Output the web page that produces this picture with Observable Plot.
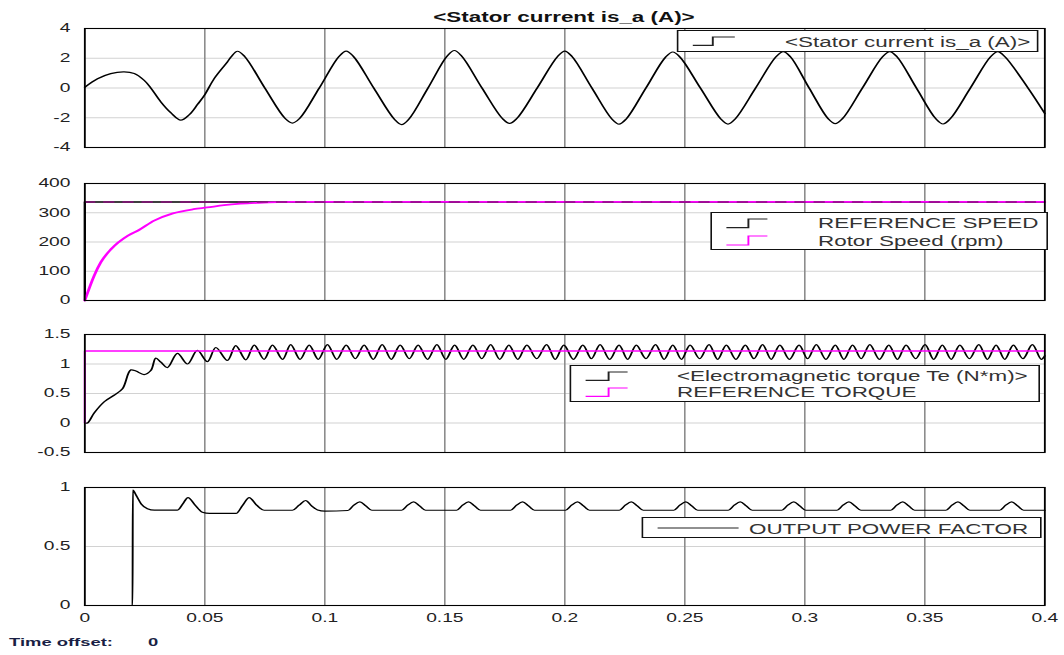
<!DOCTYPE html>
<html><head><meta charset="utf-8">
<script src="https://cdn.jsdelivr.net/npm/d3@7"></script>
<script src="https://cdn.jsdelivr.net/npm/@observablehq/plot@0.6"></script>
<style>
html,body{margin:0;padding:0;background:#fff;width:1064px;height:655px;overflow:hidden}
#root{position:absolute;left:0;top:0;width:665px;height:655px;transform:scaleX(1.6);transform-origin:0 0;font-family:"Liberation Sans",Arial,sans-serif}
.lg{position:absolute;background:#fff;border:1px solid #111;box-sizing:border-box}
.lt{position:absolute;font-size:14px;color:#333;white-space:nowrap;line-height:1;transform:translateY(-50%)}
</style></head>
<body><div id="root"></div>
<script>
// ---------- data (time in s) ----------
const xTicks = [0, 0.05, 0.1, 0.15, 0.2, 0.25, 0.3, 0.35, 0.4];
const currentTicks = [-4, -2, 0, 2, 4];
const speedTicks = [0, 100, 200, 300, 400];
const torqueTicks = [-0.5, 0, 0.5, 1, 1.5];
const pfTicks = [0, 0.5, 1];

const statorCurrent = [
[0,0.05],[0.0053,0.62],[0.0108,0.97],[0.0164,1.08],[0.0206,0.97],[0.0247,0.52],[0.0275,0],[0.0317,-0.94],[0.0358,-1.66],[0.0400,-2.16],
[0.0435,-1.8],[0.0470,-1.1],[0.0500,-0.45],[0.0539,0.63],[0.0594,1.75],[0.0610,2.1],[0.0636,2.47],
[0.0666,2.12],[0.0750,0],[0.0835,-2.05],[0.0865,-2.36],[0.0895,-2.05],[0.0977,0],[0.1059,2.12],[0.1089,2.48],
[0.1119,2.13],[0.1204,0],[0.1290,-2.1],[0.1320,-2.46],[0.1350,-2.1],[0.1430,0],[0.1510,2.15],[0.1540,2.52],
[0.1570,2.15],[0.1655,0],[0.1740,-2.05],[0.1770,-2.38],[0.1800,-2.05],[0.1885,0],[0.1970,2.12],[0.2000,2.48],
[0.2030,2.12],[0.2113,0],[0.2196,-2.08],[0.2226,-2.43],[0.2256,-2.08],[0.2338,0],[0.2420,2.08],[0.2450,2.42],
[0.2480,2.08],[0.2565,0],[0.2650,-2.08],[0.2680,-2.43],[0.2710,-2.08],[0.2795,0],[0.2880,2.1],[0.2910,2.45],
[0.2940,2.1],[0.3018,0],[0.3097,-2.06],[0.3127,-2.40],[0.3157,-2.06],[0.3240,0],[0.3324,2.1],[0.3354,2.45],
[0.3384,2.1],[0.3465,0],[0.3546,-2.07],[0.3576,-2.42],[0.3606,-2.07],[0.3690,0],[0.3774,2.1],[0.3804,2.45],
[0.3834,2.1],[0.3930,0],[0.4000,-1.72]
];

const referenceSpeed = [[0,0],[0,337],[0.4,337]];
const rotorSpeed = [
[0,0],[0.0039,85],[0.0067,131],[0.011,176],[0.018,222],[0.0224,240],[0.0289,273],[0.0367,298],[0.0453,312],
[0.051,318],[0.058,326],[0.065,331],[0.0724,334],[0.0867,337],[0.4,337]
];

const referenceTorque = [[0,0],[0,1.22],[0.4,1.22]];
const emTorque = [
[0,0],[0.0011,0],[0.0039,0.17],[0.0081,0.36],[0.0122,0.47],[0.0157,0.58],[0.0192,0.90],[0.0213,0.88],[0.0247,0.82],[0.0275,0.89],
[0.0296,1.10],[0.0317,1.03],[0.0344,0.94],[0.0386,1.18],[0.0428,1.00],[0.0469,1.23],[0.0511,1.04],[0.0546,1.28],[0.0594,1.06],[0.0629,1.31],
[0.0671,1.07],[0.0706,1.32],[0.0747,1.08],[0.0782,1.32],[0.0824,1.08],[0.0858,1.33],[0.0897,1.08],[0.0935,1.32],[0.0973,1.08],[0.1011,1.33],
[0.1050,1.08],[0.1089,1.32],[0.1127,1.09],[0.1164,1.32],[0.1202,1.08],[0.1239,1.33],[0.1277,1.08],[0.1314,1.32],[0.1352,1.09],[0.1389,1.32],
[0.1428,1.08],[0.1467,1.33],[0.1504,1.08],[0.1541,1.32],[0.1579,1.08],[0.1617,1.32],[0.1654,1.09],[0.1691,1.33],[0.1729,1.08],[0.1767,1.32],
[0.1804,1.08],[0.1842,1.32],[0.1883,1.09],[0.1924,1.33],[0.1960,1.08],[0.1996,1.32],[0.2036,1.08],[0.2075,1.32],[0.2111,1.09],[0.2147,1.33],
[0.2187,1.08],[0.2226,1.32],[0.2262,1.08],[0.2298,1.32],[0.2338,1.09],[0.2378,1.33],[0.2414,1.08],[0.2450,1.32],[0.2486,1.08],[0.2522,1.32],
[0.2562,1.09],[0.2601,1.33],[0.2637,1.08],[0.2673,1.32],[0.2713,1.08],[0.2752,1.32],[0.2788,1.09],[0.2824,1.33],[0.2860,1.08],[0.2896,1.32],
[0.2936,1.08],[0.2976,1.32],[0.3012,1.09],[0.3048,1.33],[0.3088,1.08],[0.3127,1.32],[0.3163,1.08],[0.3199,1.32],[0.3235,1.09],[0.3271,1.33],
[0.3311,1.08],[0.3350,1.32],[0.3386,1.08],[0.3422,1.32],[0.3462,1.09],[0.3501,1.33],[0.3537,1.08],[0.3573,1.32],[0.3610,1.08],[0.3646,1.32],
[0.3686,1.09],[0.3725,1.33],[0.3761,1.08],[0.3797,1.32],[0.3833,1.08],[0.3869,1.32],[0.3909,1.09],[0.3948,1.33],[0.3985,1.08],[0.4000,1.14]
];

const powerFactor = [
[0,0],[0.0199,0],[0.0200,0.977],[0.0215,0.93],[0.0235,0.86],[0.0261,0.82],[0.0290,0.808],[0.0386,0.808],[0.0408,0.86],[0.0430,0.915],
[0.0460,0.85],[0.0490,0.79],[0.0520,0.78],[0.0630,0.78],[0.0658,0.85],[0.0685,0.915],[0.0716,0.85],[0.0747,0.807],[0.0865,0.807],[0.0893,0.85],
[0.0920,0.89],[0.0945,0.845],[0.0970,0.81],[0.1000,0.80],[0.1096,0.805],[0.1121,0.85],[0.1146,0.878],[0.1171,0.845],[0.1196,0.807],
[0.1320,0.807],[0.1345,0.85],[0.1370,0.878],[0.1395,0.845],[0.1420,0.807],[0.1549,0.807],[0.1574,0.85],[0.1599,0.878],[0.1624,0.845],[0.1649,0.807],
[0.1774,0.807],[0.1799,0.85],[0.1824,0.878],[0.1849,0.845],[0.1874,0.807],[0.2003,0.807],[0.2028,0.85],[0.2053,0.878],[0.2078,0.845],[0.2103,0.807],
[0.2227,0.807],[0.2252,0.85],[0.2277,0.878],[0.2302,0.845],[0.2327,0.807],[0.2454,0.807],[0.2479,0.85],[0.2504,0.878],[0.2529,0.845],[0.2554,0.807],
[0.2681,0.807],[0.2706,0.85],[0.2731,0.878],[0.2756,0.845],[0.2781,0.807],[0.2904,0.807],[0.2929,0.85],[0.2954,0.878],[0.2979,0.845],[0.3004,0.807],
[0.3134,0.807],[0.3159,0.85],[0.3184,0.878],[0.3209,0.845],[0.3234,0.807],[0.3358,0.807],[0.3383,0.85],[0.3408,0.878],[0.3433,0.845],[0.3458,0.807],
[0.3588,0.807],[0.3613,0.85],[0.3638,0.878],[0.3663,0.845],[0.3688,0.807],[0.3812,0.807],[0.3837,0.85],[0.3862,0.878],[0.3887,0.845],[0.3912,0.807],
[0.4000,0.807]
];

// ---------- layout ----------
const S = 1.6;              // horizontal stretch of the whole picture
const W = 1064 / S;
const root = document.getElementById("root");
const X = px => px / S;
const fmt = d => String(d);
const tx = d => d[0], ty = d => d[1];

function addPanel(top, bottom, yDomain, yTicks, marks, showX) {
  const mt = 8, mb = showX ? 30 : 8;
  const svg = Plot.plot({
    width: W, height: (bottom - top) + mt + mb,
    marginLeft: X(84), marginRight: W - X(1044), marginTop: mt, marginBottom: mb,
    x: {domain: [0, 0.4], axis: null},
    y: {domain: yDomain, axis: null},
    style: {fontFamily: "Liberation Sans, Arial, sans-serif", fontSize: "12px", color: "#222", background: "transparent", overflow: "visible"},
    marks: [
      Plot.gridY(yTicks, {stroke: "#d2d2d2", strokeOpacity: 1}),
      Plot.gridX(xTicks, {stroke: "#8c8c8c", strokeOpacity: 1}),
      Plot.axisY(yTicks, {tickSize: 0, tickPadding: 9, tickFormat: fmt}),
      showX ? Plot.axisX(xTicks, {tickSize: 0, tickPadding: 8, tickFormat: fmt}) : null,
      ...marks,
      Plot.frame({stroke: "#000", strokeWidth: 1.1})
    ]
  });
  svg.style.position = "absolute";
  svg.style.left = "0px";
  svg.style.top = (top - mt) + "px";
  root.appendChild(svg);
}

addPanel(28, 147, [-4, 4], currentTicks, [
  Plot.line(statorCurrent, {x: tx, y: ty, stroke: "#000", strokeWidth: 1.2, curve: "catmull-rom"})
], false);

addPanel(183, 300, [0, 400], speedTicks, [
  Plot.line(referenceSpeed, {x: tx, y: ty, stroke: "#000", strokeWidth: 1.4}),
  Plot.line(rotorSpeed, {x: tx, y: ty, stroke: "#ff00ff", strokeWidth: 1.8, curve: "monotone-x"}),
  Plot.line(referenceSpeed.slice(1), {x: tx, y: ty, stroke: "#8a0f7e", strokeWidth: 1.4, strokeDasharray: "6,6"})
], false);

addPanel(334, 452, [-0.5, 1.5], torqueTicks, [
  Plot.line(emTorque, {x: tx, y: ty, stroke: "#000", strokeWidth: 1.2, curve: "catmull-rom"}),
  Plot.line(referenceTorque, {x: tx, y: ty, stroke: "#ff00ff", strokeWidth: 1.3})
], false);

addPanel(487, 605, [0, 1], pfTicks, [
  Plot.line(powerFactor, {x: tx, y: ty, stroke: "#000", strokeWidth: 1.2, curve: "monotone-x"})
], true);

// ---------- text & legends ----------
function el(tag, cls, css, text) {
  const e = document.createElement(tag);
  if (cls) e.className = cls;
  Object.assign(e.style, css);
  if (text != null) e.textContent = text;
  root.appendChild(e);
  return e;
}
function box(x1, y1, x2, y2) {
  el("div", "lg", {left: X(x1) + "px", top: y1 + "px", width: X(x2 - x1) + "px", height: (y2 - y1) + "px"});
}
function label(text, x, yc) {
  el("div", "lt", {left: X(x) + "px", top: yc + "px"}, text);
}
const NS = "http://www.w3.org/2000/svg";
function icon(x1, xs, x2, yLow, yHigh, color) {
  const s = document.createElementNS(NS, "svg");
  const w = X(x2 - x1), h = yLow - yHigh + 2;
  s.setAttribute("width", w); s.setAttribute("height", h);
  Object.assign(s.style, {position: "absolute", left: X(x1) + "px", top: (yHigh - 1) + "px", overflow: "visible"});
  const p = document.createElementNS(NS, "path");
  p.setAttribute("d", xs == null ? `M0,${h / 2}H${w}` : `M0,${h - 1}H${X(xs - x1)}V1H${w}`);
  p.setAttribute("fill", "none"); p.setAttribute("stroke", color); p.setAttribute("stroke-width", "1.2");
  s.appendChild(p);
  root.appendChild(s);
}

el("div", null, {position: "absolute", left: X(564) + "px", top: "17px", transform: "translate(-50%,-50%)",
  fontWeight: "bold", fontSize: "14px", color: "#111", whiteSpace: "nowrap", lineHeight: "1"}, "<Stator current is_a (A)>");

box(677, 30, 1039, 52);
icon(692, 712, 734, 45.7, 37.3, "#222");
label("<Stator current is_a (A)>", 785, 41.5);

box(711, 212, 1048, 249.5);
icon(727, 749, 768, 227.7, 219, "#222");
icon(727, 749, 768, 245, 236, "#ff00ff");
label("REFERENCE SPEED", 818, 222.5);
label("Rotor Speed (rpm)", 818, 240.5);

box(570, 364.5, 1040, 402);
icon(585, 608, 627, 380, 371.7, "#222");
icon(585, 608, 627, 396.7, 388.3, "#ff00ff");
label("<Electromagnetic torque Te (N*m)>", 677, 375.5);
label("REFERENCE TORQUE", 677, 392);

box(642, 517, 1041, 537.5);
icon(658, null, 739, 528, 528, "#222");
label("OUTPUT POWER FACTOR", 749, 528.5);

el("div", null, {position: "absolute", left: X(9) + "px", top: "643px", transform: "translateY(-50%)",
  fontWeight: "bold", fontSize: "11.5px", color: "#1a1f45", whiteSpace: "nowrap", lineHeight: "1"}, "Time offset:");
el("div", null, {position: "absolute", left: X(148) + "px", top: "643px", transform: "translateY(-50%)",
  fontWeight: "bold", fontSize: "11.5px", color: "#1a1f45", whiteSpace: "nowrap", lineHeight: "1"}, "0");
</script>
</body></html>
